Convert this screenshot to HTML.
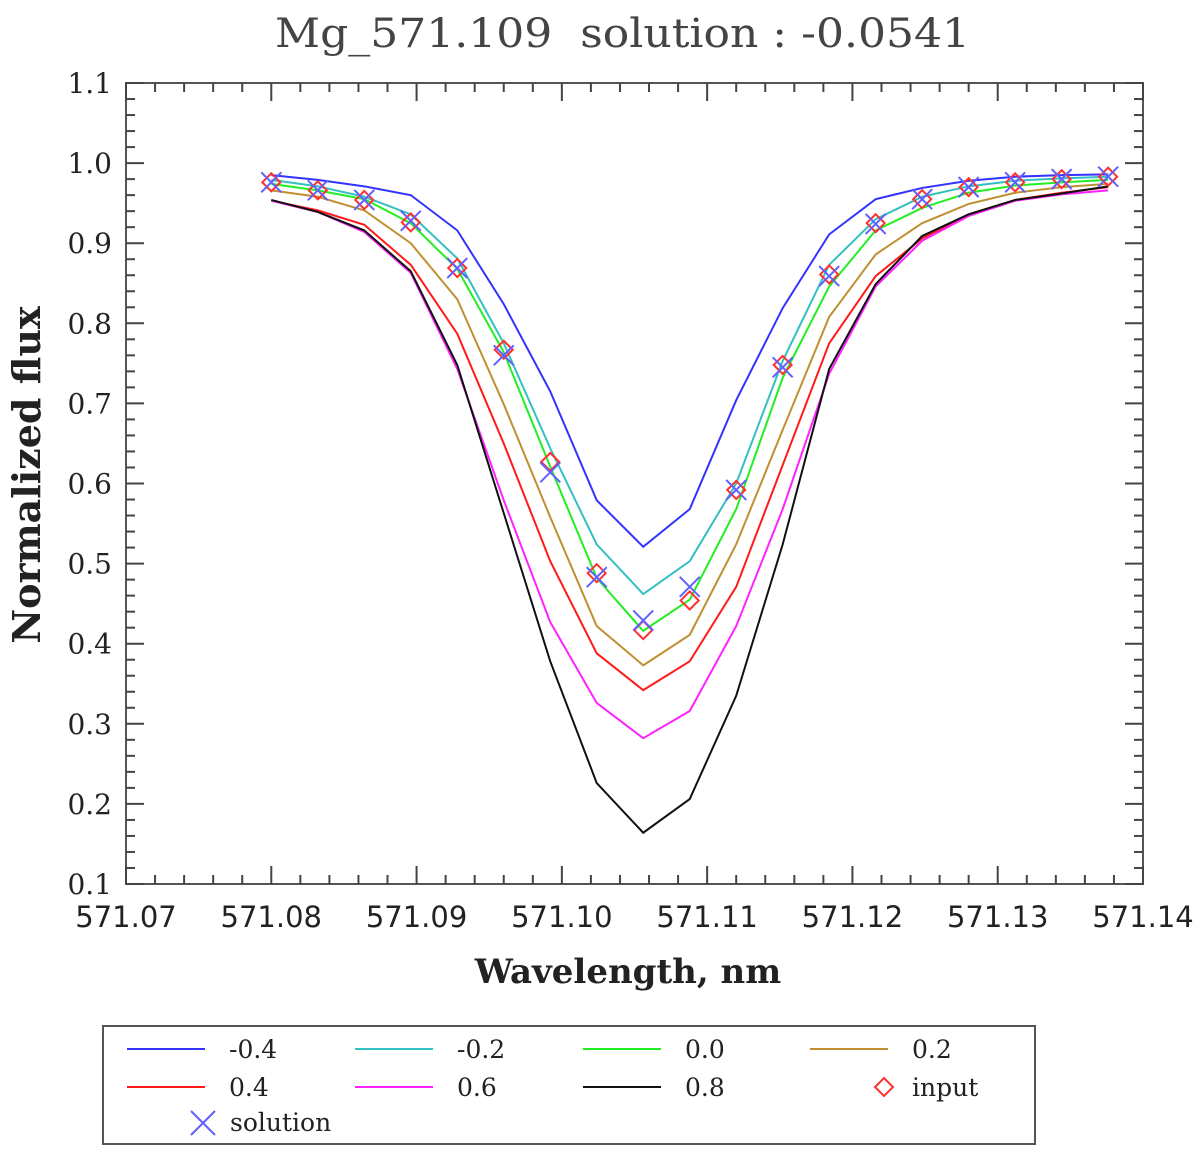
<!DOCTYPE html>
<html><head><meta charset="utf-8"><style>
body{margin:0;background:#fff;}
svg{display:block;}
</style></head><body>
<svg id="chart" width="1200" height="1158" viewBox="0 0 1200 1158" xmlns="http://www.w3.org/2000/svg">
<text x="275" y="47" xml:space="preserve" textLength="695" lengthAdjust="spacingAndGlyphs" font-family="DejaVu Serif, Liberation Serif, serif" font-size="40" fill="#444">Mg_571.109  solution : -0.0541</text>
<g id="plot"></g>
<text x="628" y="983" text-anchor="middle" font-family="DejaVu Serif, Liberation Serif, serif" font-weight="bold" font-size="34" fill="#222">Wavelength, nm</text>
<text transform="translate(40,475) rotate(-90)" text-anchor="middle" font-family="DejaVu Serif, Liberation Serif, serif" font-weight="bold" font-size="38" fill="#222">Normalized flux</text>
<g id="legend"></g>
</svg>
<script>
const NS="http://www.w3.org/2000/svg";
const wavelengths=[571.0800,571.0832,571.0864,571.0896,571.0928,571.0960,571.0992,571.1024,571.1056,571.1088,571.1120,571.1152,571.1184,571.1216,571.1248,571.1280,571.1312,571.1344,571.1376];
const seriesLabels=["-0.4","-0.2","0.0","0.2","0.4","0.6","0.8"];
const seriesColors=["#3333ff","#33c0c0","#22ee22","#c09030","#ff1a1a","#ff22ff","#111111"];
const sM04=[0.985,0.979,0.971,0.960,0.916,0.824,0.715,0.579,0.521,0.568,0.704,0.819,0.911,0.955,0.969,0.978,0.983,0.985,0.986];
const sM02=[0.979,0.971,0.958,0.936,0.881,0.775,0.644,0.524,0.462,0.503,0.600,0.753,0.873,0.930,0.958,0.971,0.978,0.981,0.983];
const s00=[0.974,0.966,0.955,0.925,0.868,0.764,0.621,0.482,0.416,0.455,0.568,0.732,0.846,0.916,0.944,0.963,0.972,0.976,0.979];
const s02=[0.966,0.958,0.941,0.900,0.830,0.699,0.558,0.422,0.373,0.411,0.524,0.667,0.808,0.886,0.925,0.949,0.963,0.970,0.974];
const s04=[0.953,0.941,0.923,0.873,0.787,0.650,0.503,0.388,0.342,0.378,0.471,0.623,0.775,0.859,0.906,0.936,0.954,0.963,0.970];
const s06=[0.953,0.939,0.914,0.863,0.743,0.579,0.427,0.326,0.282,0.316,0.422,0.568,0.737,0.846,0.903,0.934,0.953,0.961,0.966];
const s08=[0.954,0.939,0.916,0.865,0.748,0.563,0.378,0.226,0.164,0.206,0.335,0.524,0.743,0.849,0.909,0.936,0.954,0.962,0.971];
const inputVals=[0.976,0.966,0.954,0.926,0.869,0.767,0.627,0.488,0.417,0.454,0.592,0.748,0.861,0.925,0.955,0.970,0.976,0.980,0.983];
const solutionVals=[0.976,0.966,0.954,0.928,0.869,0.760,0.614,0.483,0.429,0.471,0.592,0.745,0.859,0.924,0.955,0.970,0.976,0.980,0.983];
const xTicks=["571.07","571.08","571.09","571.10","571.11","571.12","571.13","571.14"];
const yTicks=["0.1","0.2","0.3","0.4","0.5","0.6","0.7","0.8","0.9","1.0","1.1"];

const L=126,R=1143,T=83,B=884;
const X0=571.07,X1=571.14,Y0=0.1,Y1=1.1;
function sx(v){return L+(v-X0)/(X1-X0)*(R-L);}
function sy(v){return B-(v-Y0)/(Y1-Y0)*(B-T);}
const plot=document.getElementById('plot');
function mk(tag,attrs,parent){const e=document.createElementNS(NS,tag);for(const k in attrs)e.setAttribute(k,attrs[k]);(parent||plot).appendChild(e);return e;}

let fr=mk('rect',{x:L,y:T,width:R-L,height:B-T,fill:'none',stroke:'#555','stroke-width':2});


for(let i=0;i<=35;i++){
  const v=X0+i*0.002, x=sx(v), maj=i%5===0, len=maj?18:9;
  const t1=mk('line',{x1:x,y1:B,x2:x,y2:B-len,stroke:'#444','stroke-width':2});
  
  
  const t2=mk('line',{x1:x,y1:T,x2:x,y2:T+len,stroke:'#444','stroke-width':2});
  
  
}
xTicks.forEach((s)=>{
  const t=mk('text',{x:sx(parseFloat(s)),y:927,'text-anchor':'middle','font-family':'DejaVu Sans, Liberation Sans, sans-serif','font-size':29,fill:'#222'});
  t.textContent=s;
  
  
});
for(let i=0;i<=50;i++){
  const v=Y0+i*0.02, y=sy(v), maj=i%5===0, len=maj?18:9;
  const t1=mk('line',{x1:L,y1:y,x2:L+len,y2:y,stroke:'#444','stroke-width':2});
  
  
  const t2=mk('line',{x1:R,y1:y,x2:R-len,y2:y,stroke:'#444','stroke-width':2});
  
  
}
yTicks.forEach((s)=>{
  const t=mk('text',{x:112,y:sy(parseFloat(s))+10,'text-anchor':'end','font-family':'DejaVu Serif, Liberation Serif, serif','font-size':28,fill:'#222'});
  t.textContent=s;
  
  
});
const allSeries=[sM04,sM02,s00,s02,s04,s06,s08];
allSeries.forEach((arr,k)=>{
  const p=mk('polyline',{points:arr.map((v,i)=>sx(wavelengths[i])+','+sy(v)).join(' '),fill:'none',stroke:seriesColors[k],'stroke-width':2});
  
  
});
inputVals.forEach((v,i)=>{
  const x=sx(wavelengths[i]),y=sy(v),r=9;
  const d=mk('polygon',{points:`${x},${y-r} ${x+r},${y} ${x},${y+r} ${x-r},${y}`,fill:'none',stroke:'#ff3030','stroke-width':2});
  
  
});
solutionVals.forEach((v,i)=>{
  const x=sx(wavelengths[i]),y=sy(v),r=10;
  const g=mk('path',{d:`M${x-r},${y-r}L${x+r},${y+r}M${x-r},${y+r}L${x+r},${y-r}`,stroke:'#6060ff','stroke-width':2,fill:'none'});
  
  
});

const lg=document.getElementById('legend');
const box=mk('rect',{x:103,y:1026,width:932,height:118,fill:'#fff',stroke:'#555','stroke-width':2},lg);


const colX=[127,355,583,810], rowY=[1049,1087];
seriesLabels.forEach((s,k)=>{
  const c=k%4,r=Math.floor(k/4),x=colX[c],y=rowY[r];
  const ln=mk('line',{x1:x,y1:y,x2:x+78,y2:y,stroke:seriesColors[k],'stroke-width':2},lg);
  
  
  const t=mk('text',{x:x+102,y:y+9,'font-family':'DejaVu Serif, Liberation Serif, serif','font-size':25,fill:'#222'},lg);
  t.textContent=s;
  
  
});
{
  const x=884,y=1087,r=9;
  const d=mk('polygon',{points:`${x},${y-r} ${x+r},${y} ${x},${y+r} ${x-r},${y}`,fill:'none',stroke:'#ff3030','stroke-width':2},lg);
  
  
  const t=mk('text',{x:912,y:1096,'font-family':'DejaVu Serif, Liberation Serif, serif','font-size':25,fill:'#222'},lg);
  t.textContent='input';
  
  
  const x2=203,y2=1123,r2=12;
  const g=mk('path',{d:`M${x2-r2},${y2-r2}L${x2+r2},${y2+r2}M${x2-r2},${y2+r2}L${x2+r2},${y2-r2}`,stroke:'#6060ff','stroke-width':2,fill:'none'},lg);
  
  
  const t2=mk('text',{x:230,y:1131,'font-family':'DejaVu Serif, Liberation Serif, serif','font-size':25,fill:'#222'},lg);
  t2.textContent='solution';
  
  
}
</script>
</body></html>
